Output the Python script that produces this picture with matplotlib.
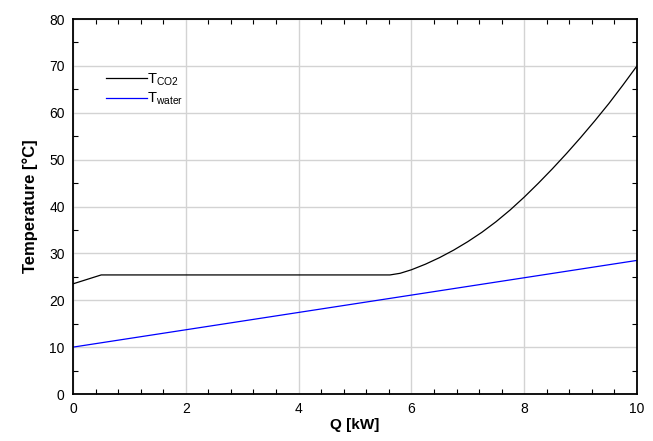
import matplotlib
matplotlib.use("Agg")
import matplotlib.pyplot as plt
from matplotlib.ticker import MultipleLocator

plt.rcParams['font.family'] = ['Liberation Sans', 'DejaVu Sans']
plt.rcParams['mathtext.fontset'] = 'custom'
plt.rcParams['mathtext.rm'] = 'Liberation Sans'
plt.rcParams['mathtext.it'] = 'Liberation Sans'

q_co2 = [0.0, 0.5, 5.62, 5.8, 6.0, 6.25, 6.5, 6.75, 7.0, 7.25, 7.5, 7.75,
         8.0, 8.25, 8.5, 8.75, 9.0, 9.25, 9.5, 9.75, 10.0]
t_co2 = [23.5, 25.4, 25.4, 25.75, 26.5, 27.7, 29.1, 30.7, 32.5, 34.5, 36.75, 39.25,
         42.0, 44.95, 48.05, 51.3, 54.7, 58.25, 61.95, 65.9, 70.0]
q_water = [0.0, 10.0]
t_water = [10.0, 28.5]

fig = plt.figure(figsize=(6.53, 4.41), dpi=100)
ax = fig.add_axes([73/653, 1-394/441, (637-73)/653, (394-19)/441])

ax.plot(q_co2, t_co2, color='black', lw=0.9, label=r'T$_{\mathrm{CO2}}$')
ax.plot(q_water, t_water, color='blue', lw=0.9, label=r'T$_{\mathrm{water}}$')

ax.set_xlim(0, 10)
ax.set_ylim(0, 80)
ax.xaxis.set_major_locator(MultipleLocator(2))
ax.xaxis.set_minor_locator(MultipleLocator(0.4))
ax.yaxis.set_major_locator(MultipleLocator(10))
ax.yaxis.set_minor_locator(MultipleLocator(5))
ax.grid(True, which='major', color='#d3d3d3', lw=1.0)
ax.set_axisbelow(True)
ax.tick_params(which='both', direction='in', top=True, right=True, labelsize=10)
ax.tick_params(which='major', length=0, pad=6)
ax.tick_params(which='minor', length=3.5, width=0.8)
for s in ax.spines.values():
    s.set_linewidth(1.3)

ax.set_xlabel('Q [kW]', fontsize=11, fontweight='bold', labelpad=1)
ax.set_ylabel('Temperature [°C]', fontsize=12, fontweight='bold', labelpad=8)

ax.legend(loc='upper left', bbox_to_anchor=(0.035, 0.895), frameon=False,
          fontsize=10.5, handlelength=2.8, handletextpad=0.05, labelspacing=0.2)

fig.savefig('out.png', dpi=100)
